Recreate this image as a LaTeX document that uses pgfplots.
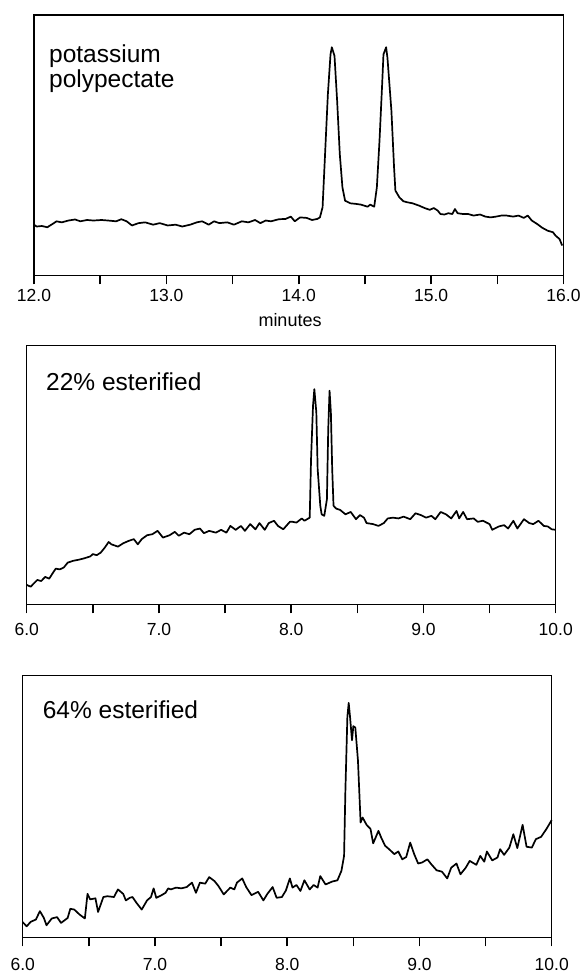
\documentclass[border=0pt]{standalone}
\usepackage{fontspec}
\setmainfont{Liberation Sans}
\usepackage{pgfplots}
\pgfplotsset{compat=1.18}

% common look of the three chromatogram panels
\pgfplotsset{
  chrom/.style={
    scale only axis, anchor=south west, clip=false,
    ymin=0, ymax=100, ytick=\empty,
    axis line style={line width=1.5pt},
    xtick pos=left, tick align=outside,
    major tick length=9pt, minor tick length=9pt,
    tick style={line width=1.5pt, black},
    minor tick num=1,
    xticklabel={\pgfmathprintnumber[fixed,fixed zerofill,precision=1]{\tick}},
    /pgf/number format/assume math mode=true,
    xticklabel style={font=\fontsize{17.5}{17.5}\selectfont, anchor=base},
  },
  trace/.style={black, line width=1.7pt, line join=round, mark=none},
}
\tikzset{panellabel/.style={font=\fontsize{24.5}{25}\selectfont, anchor=base west, inner sep=0pt}}

\begin{document}
\begin{tikzpicture}[x=1pt,y=1pt]
\useasboundingbox (0,0) rectangle (581,973);

% ---------- potassium polypectate ----------
\begin{axis}[chrom, at={(34pt,697.5pt)}, width=529.5pt, height=260.5pt,
  xmin=12, xmax=16, xtick={12,13,14,15,16},
  xticklabel style={yshift=-17.5pt}]
\addplot[trace] coordinates {
(12.00,19.5)(12.02,18.8)(12.06,19.0)(12.10,18.5)(12.15,20.1)(12.17,20.8)(12.21,20.4)
(12.26,21.1)(12.31,21.5)(12.35,20.8)(12.40,21.3)(12.45,21.1)(12.51,21.3)(12.56,21.1)
(12.62,20.8)(12.66,21.6)(12.70,20.8)(12.74,19.2)(12.79,20.1)(12.84,20.4)(12.90,19.5)
(12.95,20.1)(13.01,19.2)(13.07,19.5)(13.12,18.8)(13.18,19.5)(13.23,20.4)(13.27,20.8)
(13.32,19.5)(13.36,20.8)(13.40,20.1)(13.46,20.4)(13.51,19.5)(13.57,20.8)(13.62,20.4)
(13.67,21.3)(13.71,20.1)(13.75,21.1)(13.79,20.8)(13.85,21.6)(13.90,21.7)(13.94,22.6)
(13.97,20.8)(14.01,22.3)(14.06,22.1)(14.10,21.3)(14.14,21.7)(14.16,22.3)(14.18,26.2)
(14.20,47.9)(14.22,69.6)(14.24,84.9)(14.25,87.6)(14.27,84.3)(14.29,67.0)(14.31,46.6)
(14.33,33.8)(14.35,28.7)(14.39,27.7)(14.43,27.5)(14.47,27.2)(14.52,26.4)(14.54,27.2)
(14.57,26.4)(14.59,33.8)(14.61,51.7)(14.63,73.4)(14.64,84.9)(14.66,87.6)(14.67,83.6)
(14.70,63.2)(14.72,41.5)(14.73,32.6)(14.76,30.0)(14.79,28.5)(14.82,28.1)(14.86,27.7)
(14.91,26.8)(14.95,25.9)(14.99,25.2)(15.02,25.9)(15.05,24.9)(15.07,23.6)(15.10,23.4)
(15.13,23.9)(15.16,23.6)(15.18,25.5)(15.20,23.9)(15.24,23.6)(15.28,23.6)(15.32,23.0)
(15.37,23.4)(15.41,22.6)(15.45,22.3)(15.49,22.6)(15.53,23.0)(15.57,23.0)(15.62,22.6)
(15.66,23.0)(15.70,22.1)(15.73,23.0)(15.76,21.1)(15.80,19.8)(15.84,18.3)(15.88,17.2)
(15.92,16.6)(15.94,15.3)(15.97,14.0)(15.99,11.5)
};
\node[panellabel] at (axis cs:12.113,81.6) {potassium};
\node[panellabel] at (axis cs:12.113,72.0) {polypectate};
% axis title under the tick labels
\node[font=\fontsize{18}{18}\selectfont, anchor=base, inner sep=0pt]
  at (axis description cs:0.4835,0) [yshift=-51.2pt] {minutes};
\end{axis}

% ---------- 22% esterified ----------
\begin{axis}[chrom, at={(26.7pt,368.7pt)}, width=529pt, height=258.6pt,
  xmin=6, xmax=10, xtick={6,7,8,9,10},
  xticklabel style={yshift=-22.4pt}]
\addplot[trace] coordinates {
(6.00,7.5)(6.03,6.8)(6.06,8.4)(6.08,9.4)(6.11,9.0)(6.14,10.6)(6.17,9.9)(6.20,12.3)
(6.22,13.8)(6.25,13.5)(6.28,14.2)(6.31,16.1)(6.35,16.8)(6.39,17.2)(6.43,17.7)(6.48,18.5)
(6.50,19.4)(6.53,19.0)(6.56,20.0)(6.59,21.9)(6.62,24.1)(6.64,23.2)(6.69,22.3)(6.73,23.6)
(6.77,24.5)(6.81,25.2)(6.84,23.2)(6.87,25.2)(6.91,26.7)(6.95,27.1)(6.99,28.4)(7.03,25.8)
(7.08,26.7)(7.12,28.0)(7.15,26.5)(7.19,27.7)(7.23,27.1)(7.27,28.8)(7.31,29.3)(7.34,27.5)
(7.38,28.4)(7.43,27.7)(7.47,28.8)(7.51,27.7)(7.54,30.3)(7.58,28.8)(7.62,30.3)(7.65,28.4)
(7.69,31.0)(7.73,29.0)(7.76,31.4)(7.80,28.8)(7.83,31.4)(7.87,32.3)(7.90,30.3)(7.94,29.0)
(7.99,31.9)(8.01,31.9)(8.04,31.6)(8.08,33.2)(8.10,32.3)(8.13,33.2)(8.14,33.5)(8.15,56.1)
(8.165,76.8)(8.175,83.2)(8.19,74.2)(8.20,52.3)(8.22,38.1)(8.23,34.8)(8.25,34.2)(8.27,40.6)
(8.28,67.7)(8.29,82.6)(8.30,74.2)(8.31,52.3)(8.32,38.1)(8.34,37.0)(8.37,36.5)(8.41,34.8)
(8.45,35.7)(8.49,32.9)(8.52,34.5)(8.55,33.5)(8.57,31.4)(8.62,31.0)(8.66,30.3)(8.70,31.4)
(8.73,33.2)(8.77,33.5)(8.81,33.2)(8.85,33.9)(8.90,32.9)(8.94,35.2)(8.98,34.5)(9.02,33.5)
(9.06,34.2)(9.09,32.9)(9.13,35.7)(9.17,34.8)(9.21,33.2)(9.25,36.1)(9.27,33.2)(9.30,35.7)
(9.33,32.9)(9.38,33.2)(9.41,31.9)(9.45,32.3)(9.50,31.0)(9.52,28.8)(9.57,30.1)(9.61,30.6)
(9.64,29.3)(9.68,32.3)(9.71,29.3)(9.76,32.9)(9.80,31.4)(9.83,31.0)(9.87,32.3)(9.91,30.3)
(9.94,30.1)(9.97,29.0)(10.00,28.8)
};
\node[panellabel] at (axis cs:6.146,82.6) {22\% esterified};
\end{axis}

% ---------- 64% esterified ----------
\begin{axis}[chrom, at={(22.7pt,35.7pt)}, width=529pt, height=261.6pt,
  xmin=6, xmax=10, xtick={6,7,8,9,10},
  xticklabel style={yshift=-23.7pt}]
\addplot[trace] coordinates {
(6.00,5.8)(6.03,4.2)(6.06,5.9)(6.10,6.8)(6.13,10.0)(6.16,7.4)(6.18,4.6)(6.22,7.2)
(6.26,7.7)(6.29,5.5)(6.34,7.4)(6.36,10.9)(6.39,10.6)(6.43,8.7)(6.47,7.2)(6.49,16.6)
(6.51,14.5)(6.55,14.9)(6.57,9.7)(6.61,15.4)(6.64,15.7)(6.69,15.4)(6.72,18.3)(6.76,16.6)
(6.78,14.1)(6.81,15.1)(6.83,15.4)(6.86,13.2)(6.90,10.6)(6.94,14.1)(6.97,15.4)(6.99,18.7)
(7.01,15.1)(7.05,16.1)(7.08,17.0)(7.10,18.7)(7.12,18.3)(7.16,19.0)(7.20,18.7)(7.24,19.2)
(7.28,20.9)(7.31,17.0)(7.34,20.9)(7.38,20.5)(7.41,23.0)(7.45,21.5)(7.48,19.6)(7.52,16.4)
(7.57,19.0)(7.60,18.3)(7.62,20.9)(7.66,22.5)(7.69,19.2)(7.73,16.1)(7.78,17.4)(7.82,14.1)
(7.85,16.6)(7.89,19.2)(7.92,15.1)(7.96,15.4)(7.99,17.9)(8.02,22.5)(8.04,19.0)(8.07,20.0)
(8.10,17.7)(8.13,21.8)(8.17,18.3)(8.20,20.0)(8.23,19.0)(8.25,23.4)(8.29,20.2)(8.34,21.3)
(8.38,21.8)(8.41,25.4)(8.43,31.1)(8.44,56.1)(8.455,84.3)(8.465,89.6)(8.475,84.3)(8.49,75.3)
(8.50,80.7)(8.515,80.2)(8.535,67.6)(8.555,43.9)(8.57,45.8)(8.60,43.0)(8.63,41.4)(8.65,35.9)
(8.69,40.7)(8.71,38.2)(8.74,35.0)(8.77,33.7)(8.81,31.8)(8.84,32.8)(8.87,29.8)(8.90,30.7)
(8.93,36.2)(8.96,31.8)(8.99,28.2)(9.02,28.6)(9.06,29.8)(9.09,27.9)(9.13,25.6)(9.17,25.1)
(9.21,22.5)(9.24,26.6)(9.28,28.2)(9.31,24.1)(9.35,26.6)(9.38,29.2)(9.43,27.7)(9.46,31.1)
(9.49,28.9)(9.51,32.8)(9.55,29.4)(9.59,30.5)(9.61,33.7)(9.64,31.5)(9.68,34.3)(9.71,39.4)
(9.74,34.1)(9.78,43.0)(9.81,34.6)(9.85,34.3)(9.88,37.5)(9.92,38.4)(9.96,41.4)(10.00,44.8)
};
\node[panellabel] at (axis cs:6.151,83.7) {64\% esterified};
\end{axis}
\end{tikzpicture}
\end{document}
